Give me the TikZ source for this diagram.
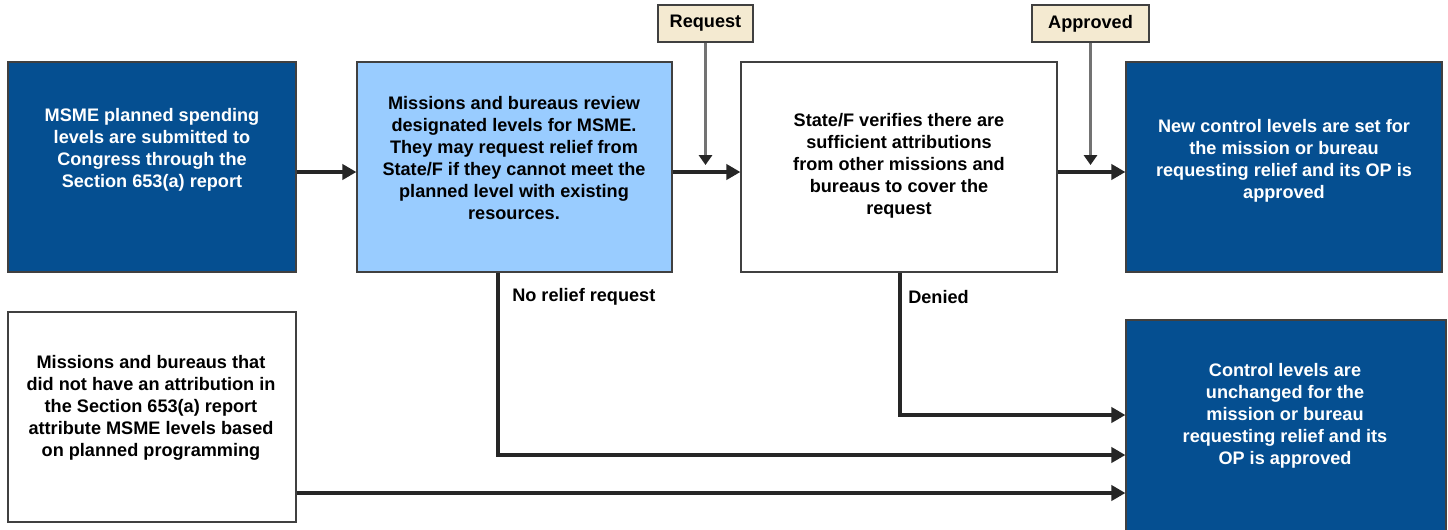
\documentclass[tikz,border=0pt]{standalone}
\usepackage{fontspec}
\setmainfont{Liberation Sans}
\usetikzlibrary{arrows.meta}
\definecolor{navy}{HTML}{054F91}
\definecolor{sky}{HTML}{99CCFF}
\definecolor{sand}{HTML}{F4EAD1}
\definecolor{rim}{HTML}{404040}
\tikzset{
  stage/.style={draw=rim, line width=1pt, minimum width=#1, minimum height=157.5pt, inner sep=0pt},
  words/.style={align=center, inner sep=0pt, font=\bfseries\fontsize{13.6}{16.5}\selectfont},
  tag/.style={draw=rim, fill=sand, line width=1pt, minimum width=#1, minimum height=27.75pt, inner sep=0pt, font=\bfseries\fontsize{13.6}{16}\selectfont},
  note/.style={inner sep=0pt, anchor=west, font=\bfseries\fontsize{13.6}{16}\selectfont},
  flow/.style={draw=black!85, line width=2.3pt, -{Triangle[length=10.5pt, width=11.5pt]}},
  feed/.style={draw=black!55, line width=1.7pt, -{Triangle[length=7.5pt, width=10pt, color=black!85]}},
}
\begin{document}
\begin{tikzpicture}[x=0.75pt, y=-0.75pt]
  \path[use as bounding box, fill=white] (0,0) rectangle (1448,529);

  \node[stage=216pt, fill=navy] (msme) at (152,167) {};
  \node[stage=236.25pt, fill=sky] (review) at (514.5,167) {};
  \node[stage=237pt, fill=white] (verify) at (899,167) {};
  \node[stage=237pt, fill=navy] (newctrl) at (1284,167) {};
  \node[stage=216pt, fill=white] (other) at (152,417) {};
  \node[stage=240pt, minimum height=168.75pt, fill=navy] (samectrl) at (1286,432.5) {};

  \node[words, text=white] (msmetext) at (152,150)
    {MSME planned spending\\levels are submitted to\\Congress through the\\Section 653(a) report};
  \node[words] (reviewtext) at (514,158)
    {Missions and bureaus review\\designated levels for MSME.\\They may request relief from\\State/F if they cannot meet the\\planned level with existing\\resources.};
  \node[words] (verifytext) at (899,166)
    {State/F verifies there are\\sufficient attributions\\from other missions and\\bureaus to cover the\\request};
  \node[words, text=white] (newctrltext) at (1284,161)
    {New control levels are set for\\the mission or bureau\\requesting relief and its OP is\\approved};
  \node[words] (othertext) at (151,408)
    {Missions and bureaus that\\did not have an attribution in\\the Section 653(a) report\\attribute MSME levels based\\on planned programming};
  \node[words, text=white] (samectrltext) at (1285,416)
    {Control levels are\\unchanged for the\\mission or bureau\\requesting relief and its\\OP is approved};

  \node[tag=71.25pt] (request) at (705.5,23.5) {Request};
  \node[tag=87.75pt] (approved) at (1090.5,23.5) {Approved};
  \node[note] (norelief) at (512,297) {No relief request};
  \node[note] (denied) at (908,297) {Denied};

  \coordinate (reqtip) at (706,165);
  \coordinate (apptip) at (1090,165);
  \coordinate (norel) at (498,455);
  \coordinate (deny) at (900,415);
  \coordinate (otherrow) at (0,493);

  \draw[flow] ([yshift=-3.75pt]msme.east) -- ([yshift=-3.75pt]review.west);
  \draw[flow] ([yshift=-3.75pt]review.east) -- ([yshift=-3.75pt]verify.west);
  \draw[flow] ([yshift=-3.75pt]verify.east) -- ([yshift=-3.75pt]newctrl.west);
  \draw[feed] (request.south) -- (request.south |- reqtip);
  \draw[feed] (approved.south) -- (approved.south |- apptip);
  \draw[flow] (review.south -| norel) |- (samectrl.west |- norel);
  \draw[flow] (verify.south -| deny) |- (samectrl.west |- deny);
  \draw[flow] (other.east |- otherrow) -- (samectrl.west |- otherrow);
\end{tikzpicture}
\end{document}
